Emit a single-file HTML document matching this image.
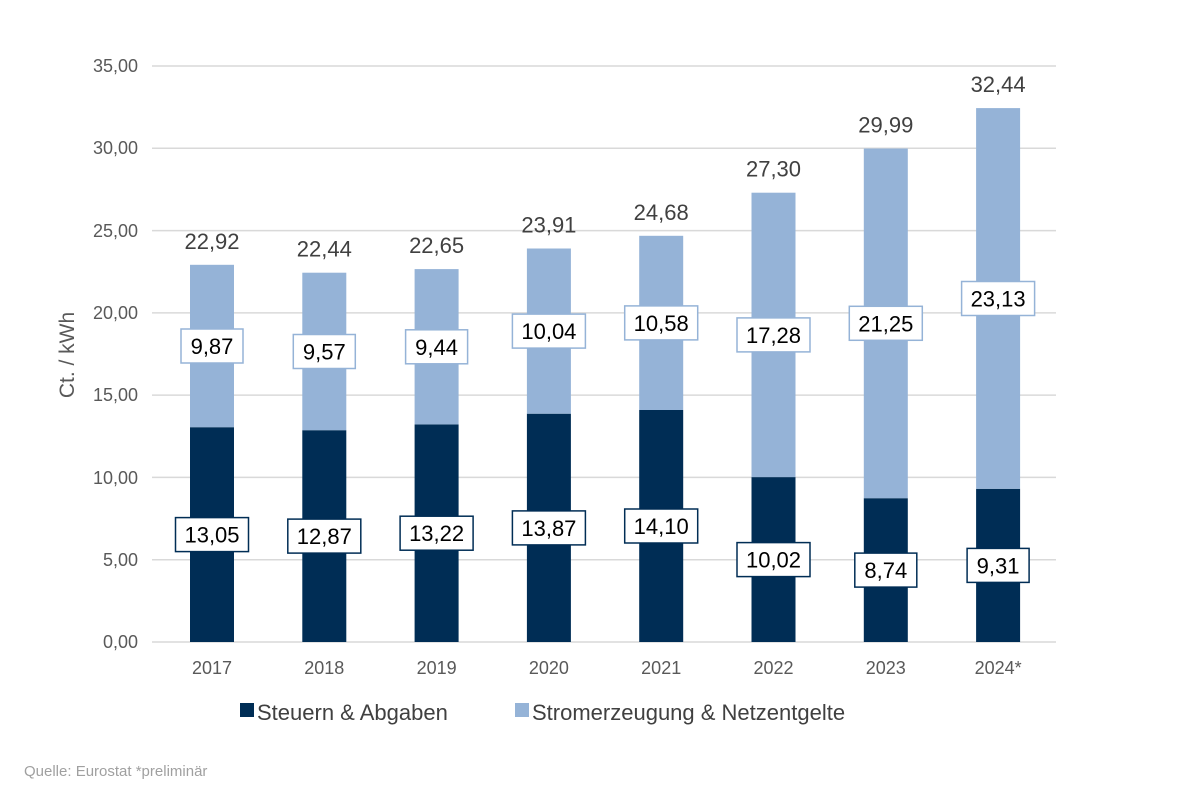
<!DOCTYPE html>
<html><head><meta charset="utf-8"><style>
body{margin:0;background:#fff;}
svg{display:block;font-family:"Liberation Sans",Arial,sans-serif;}
</style></head><body>
<svg width="1200" height="800" viewBox="0 0 1200 800">
<g stroke="#d9d9d9" stroke-width="1.5">
<line x1="152" x2="1056" y1="66" y2="66"/>
<line x1="152" x2="1056" y1="148.3" y2="148.3"/>
<line x1="152" x2="1056" y1="230.6" y2="230.6"/>
<line x1="152" x2="1056" y1="312.9" y2="312.9"/>
<line x1="152" x2="1056" y1="395.1" y2="395.1"/>
<line x1="152" x2="1056" y1="477.4" y2="477.4"/>
<line x1="152" x2="1056" y1="559.7" y2="559.7"/>
<line x1="152" x2="1056" y1="642" y2="642"/>
</g>
<g fill="#595959" font-size="18" text-anchor="end">
<text x="138" y="72">35,00</text><text x="138" y="154">30,00</text><text x="138" y="237">25,00</text><text x="138" y="319">20,00</text><text x="138" y="401">15,00</text><text x="138" y="484">10,00</text><text x="138" y="566">5,00</text><text x="138" y="648">0,00</text>
</g>
<text transform="translate(74,355) rotate(-90)" text-anchor="middle" font-size="21" fill="#595959">Ct. / kWh</text>

<g fill="#002D55">
<rect x="190" y="427.2" width="44" height="214.8"/>
<rect x="302.3" y="430.2" width="44" height="211.8"/>
<rect x="414.6" y="424.4" width="44" height="217.6"/>
<rect x="526.9" y="413.7" width="44" height="228.3"/>
<rect x="639.2" y="410" width="44" height="232"/>
<rect x="751.5" y="477.1" width="44" height="164.9"/>
<rect x="863.8" y="498.2" width="44" height="143.8"/>
<rect x="976.1" y="488.8" width="44" height="153.2"/>
</g>
<g fill="#95B3D7">
<rect x="190" y="264.8" width="44" height="162.4"/>
<rect x="302.3" y="272.7" width="44" height="157.5"/>
<rect x="414.6" y="269.1" width="44" height="155.3"/>
<rect x="526.9" y="248.5" width="44" height="165.2"/>
<rect x="639.2" y="235.8" width="44" height="174.2"/>
<rect x="751.5" y="192.7" width="44" height="284.4"/>
<rect x="863.8" y="148.5" width="44" height="349.7"/>
<rect x="976.1" y="108.1" width="44" height="380.7"/>
</g>
<g font-size="22" fill="#404040" text-anchor="middle">
<text x="212" y="248.8">22,92</text>
<text x="324.3" y="256.7">22,44</text>
<text x="436.6" y="253.1">22,65</text>
<text x="548.9" y="232.5">23,91</text>
<text x="661.2" y="219.8">24,68</text>
<text x="773.5" y="176.7">27,30</text>
<text x="885.8" y="132.5">29,99</text>
<text x="998.1" y="92.1">32,44</text>
</g>
<g font-size="18" fill="#595959" text-anchor="middle">
<text x="212" y="674">2017</text>
<text x="324.3" y="674">2018</text>
<text x="436.6" y="674">2019</text>
<text x="548.9" y="674">2020</text>
<text x="661.2" y="674">2021</text>
<text x="773.5" y="674">2022</text>
<text x="885.8" y="674">2023</text>
<text x="998.1" y="674">2024*</text>
</g>
<g fill="#fff" stroke="#002D55" stroke-width="1.5">
<rect x="175.5" y="517.6" width="73" height="34"/>
<rect x="287.8" y="519.1" width="73" height="34"/>
<rect x="400.1" y="516.2" width="73" height="34"/>
<rect x="512.4" y="510.9" width="73" height="34"/>
<rect x="624.7" y="509" width="73" height="34"/>
<rect x="737" y="542.6" width="73" height="34"/>
<rect x="854.8" y="553.1" width="62" height="34"/>
<rect x="967.1" y="548.4" width="62" height="34"/>
</g>
<g fill="#fff" stroke="#95B3D7" stroke-width="1.5">
<rect x="181" y="329" width="62" height="34"/>
<rect x="293.3" y="334.5" width="62" height="34"/>
<rect x="405.6" y="329.8" width="62" height="34"/>
<rect x="512.4" y="314.1" width="73" height="34"/>
<rect x="624.7" y="305.9" width="73" height="34"/>
<rect x="737" y="317.9" width="73" height="34"/>
<rect x="849.3" y="306.3" width="73" height="34"/>
<rect x="961.6" y="281.5" width="73" height="34"/>
</g>
<g font-size="22" fill="#000" text-anchor="middle">
<text x="212" y="542.6">13,05</text>
<text x="324.3" y="544.1">12,87</text>
<text x="436.6" y="541.2">13,22</text>
<text x="548.9" y="535.9">13,87</text>
<text x="661.2" y="534">14,10</text>
<text x="773.5" y="567.6">10,02</text>
<text x="885.8" y="578.1">8,74</text>
<text x="998.1" y="573.4">9,31</text>
<text x="212" y="354">9,87</text>
<text x="324.3" y="359.5">9,57</text>
<text x="436.6" y="354.8">9,44</text>
<text x="548.9" y="339.1">10,04</text>
<text x="661.2" y="330.9">10,58</text>
<text x="773.5" y="342.9">17,28</text>
<text x="885.8" y="331.3">21,25</text>
<text x="998.1" y="306.5">23,13</text>
</g>
<rect x="240" y="703" width="14" height="14" fill="#002D55"/>
<text x="257" y="720" font-size="22" fill="#404040">Steuern &amp; Abgaben</text>
<rect x="515" y="703" width="14" height="14" fill="#95B3D7"/>
<text x="532" y="720" font-size="22" fill="#404040">Stromerzeugung &amp; Netzentgelte</text>
<text x="24" y="776" font-size="15" fill="#a0a0a0">Quelle: Eurostat  *preliminär</text>
</svg>
</body></html>
